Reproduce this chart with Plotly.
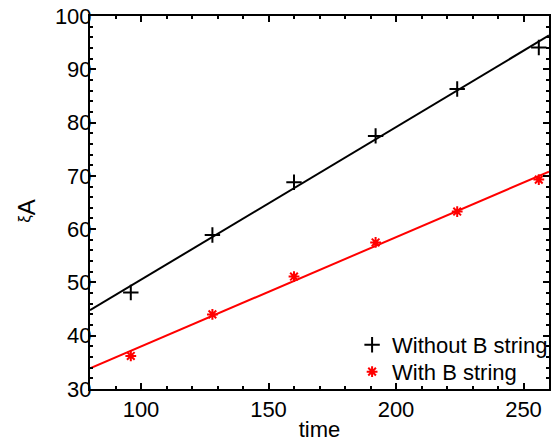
import numpy as np
import plotly.graph_objects as go

# Sampled times and measured xi_A values
time = [96, 128, 160, 192, 224, 256]
xi_without = [48.1, 58.9, 68.8, 77.5, 86.3, 94.1]
xi_with = [36.2, 44.0, 51.1, 57.5, 63.3, 69.3]

x_range = [80, 260]
y_range = [30, 100]

# Linear fits over the full axis span
fit_x = np.array(x_range, dtype=float)
k1, b1 = np.polyfit(time, xi_without, 1)
k2, b2 = np.polyfit(time, xi_with, 1)

FONT = "Liberation Sans, Arial, sans-serif"
TXT = dict(family=FONT, size=22, color="black")

fig = go.Figure()
fig.add_trace(go.Scatter(x=fit_x, y=k1 * fit_x + b1, mode="lines",
                         line=dict(color="black", width=2), showlegend=False))
fig.add_trace(go.Scatter(x=fit_x, y=k2 * fit_x + b2, mode="lines",
                         line=dict(color="red", width=2), showlegend=False))
fig.add_trace(go.Scatter(x=time, y=xi_without, mode="markers", name="Without B string",
                         legend="legend",
                         marker=dict(symbol="cross-thin", size=11, color="black",
                                     line=dict(color="black", width=2))))
fig.add_trace(go.Scatter(x=time, y=xi_with, mode="markers", name="With B string",
                         legend="legend2",
                         marker=dict(symbol="asterisk-open", size=9, color="red",
                                     line=dict(color="red", width=2))))

axis_common = dict(showline=True, linecolor="black", linewidth=2, mirror="ticks",
                   ticks="inside", ticklen=6, tickwidth=2, tickcolor="black",
                   showgrid=False, zeroline=False, tickfont=TXT)

fig.update_xaxes(range=x_range, dtick=50, tick0=0,
                 minor=dict(dtick=10, ticklen=3, tickwidth=1.5, tickcolor="black", ticks="inside"),
                 title=dict(text="time", font=TXT, standoff=2),
                 **axis_common)
fig.update_yaxes(range=y_range, dtick=10, tick0=0, ticklabelstandoff=-8,
                 minor=dict(dtick=2, ticklen=3, tickwidth=1.5, tickcolor="black", ticks="inside"),
                 title=dict(text="<span style='font-size:17px'>ξ</span>"
                                 "<sub><span style='font-size:24px'>A</span></sub>"
                                 "<span style='font-size:17px'>\u2003</span>",
                            font=TXT, standoff=18),
                 **axis_common)

legend_common = dict(xanchor="left", yanchor="middle", bgcolor="rgba(0,0,0,0)",
                     font=TXT, itemwidth=30)

fig.update_layout(
    width=555, height=442,
    margin=dict(l=90, r=2, t=16, b=49),
    paper_bgcolor="white", plot_bgcolor="white",
    font=TXT,
    legend=dict(x=0.571, y=0.118, **legend_common),
    legend2=dict(x=0.571, y=0.046, **legend_common),
)

fig.write_html("out.html")
